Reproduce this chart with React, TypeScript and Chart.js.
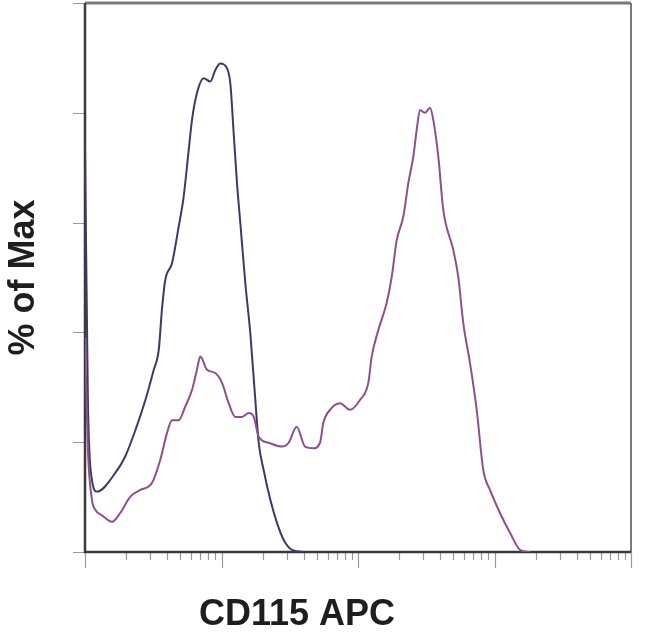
import React, { useEffect, useRef } from 'react';
import { Chart, registerables } from 'chart.js';

Chart.register(...registerables);

// CD115 APC fluorescence intensity (log scale) and % of Max
const isotypeX = [10, 10.5, 11.25, 12.24, 16.67, 19.7, 23.4, 27.7, 31.9, 34.7, 36.6, 38.7, 43.4, 48.6, 52.8, 57.5, 60.8, 66.1, 74.1, 82.8, 90.1, 98.0, 109.7, 116, 122.8, 129.9, 137.4, 149.4, 162.5, 176.9, 187.3, 203.8, 227.9, 255, 285.6, 328.6, 409];
const isotypeY = [74.1, 27.7, 13.1, 11.0, 14.4, 17.4, 22.2, 27.7, 33.2, 36.8, 44.1, 49.5, 52.6, 59.3, 64.7, 73.2, 78.7, 83.6, 86.3, 85.7, 87.8, 89.0, 88.1, 85.4, 76.3, 67.2, 59.9, 49.0, 39.9, 27.7, 19.9, 14.9, 9.5, 5.3, 2.2, 0.4, 0];

const stainedX = [10, 10.5, 11.25, 11.9, 13.3, 15.8, 18.1, 21.5, 25.4, 31.0, 35.6, 39.9, 43.4, 48.6, 54.3, 60.8, 66.1, 69.9, 78.3, 90.1, 100.9, 112.9, 126.2, 141.3, 158.2, 172.2, 187.3, 221.8, 277.5, 310.7, 355.6, 409, 470.4, 526.9, 557, 623.6, 738.3, 873.7, 1034, 1190, 1260, 1408, 1623, 1766, 1921, 2148, 2337, 2542, 2692, 2846, 3096, 3369, 3561, 3876, 4216, 4990, 5429, 5907, 6615, 7407, 8279, 9268, 10970, 12990, 15380, 18200];
const stainedY = [39, 18.6, 9.5, 7.7, 6.7, 5.5, 7.1, 10.1, 11.3, 12.6, 16.8, 21.7, 24.0, 24.0, 26.5, 29.5, 33.2, 35.6, 33.2, 32.6, 30.8, 27.1, 24.6, 24.6, 25.3, 24.6, 21.0, 19.9, 19.2, 19.9, 22.8, 19.2, 18.9, 19.9, 23.5, 25.9, 27.1, 25.9, 27.7, 30.8, 35.6, 40.4, 45.4, 50.1, 56.8, 61.1, 67.2, 72.0, 76.9, 80.5, 80.0, 80.9, 78.7, 72.0, 62.3, 55.0, 50.1, 41.7, 34.4, 25.9, 14.9, 11.3, 7.1, 3.5, 0.4, 0];

const xDecades = [10, 100, 1000, 10000, 100000];
const yTicks = [0, 20, 40, 60, 80, 100];
const xTitle = 'CD115 APC';
const yTitle = '% of Max';

const frameAndTicks = {
    id: 'frameAndTicks',
    beforeDatasetsDraw(chart: any) {
        const { ctx, chartArea, scales } = chart;
        const { left, right, top, bottom } = chartArea;
        ctx.save();
        // ticks
        ctx.strokeStyle = '#9a9a9a';
        ctx.lineWidth = 1.2;
        ctx.beginPath();
        for (const v of yTicks) {
            const py = Math.round(scales.y.getPixelForValue(v)) + 0.5;
            ctx.moveTo(left - 12, py);
            ctx.lineTo(left, py);
        }
        for (let i = 0; i < xDecades.length; i++) {
            const d = xDecades[i];
            const px = Math.round(scales.x.getPixelForValue(d)) + 0.5;
            ctx.moveTo(px, bottom);
            ctx.lineTo(px, bottom + 16);
            if (i < xDecades.length - 1) {
                for (let k = 2; k <= 9; k++) {
                    const mx = Math.round(scales.x.getPixelForValue(d * k)) + 0.5;
                    ctx.moveTo(mx, bottom);
                    ctx.lineTo(mx, bottom + 8);
                }
            }
        }
        ctx.stroke();
        // frame
        ctx.strokeStyle = '#7a7a7a';
        ctx.lineWidth = 3;
        ctx.beginPath();
        ctx.moveTo(left, top);
        ctx.lineTo(right, top);
        ctx.stroke();
        ctx.lineWidth = 2;
        ctx.beginPath();
        ctx.moveTo(right, top);
        ctx.lineTo(right, bottom);
        ctx.stroke();
        ctx.strokeStyle = '#3a3a3a';
        ctx.lineWidth = 2.5;
        ctx.beginPath();
        ctx.moveTo(left, top);
        ctx.lineTo(left, bottom);
        ctx.lineTo(right, bottom);
        ctx.stroke();
        ctx.restore();
    },
    afterDraw(chart: any) {
        const { ctx, chartArea } = chart;
        ctx.save();
        ctx.fillStyle = '#1e1e1e';
        ctx.font = 'bold 36px "Liberation Sans", Arial, sans-serif';
        ctx.textAlign = 'center';
        ctx.textBaseline = 'middle';
        ctx.fillText(xTitle, chartArea.left + 212, chartArea.bottom + 63);
        ctx.translate(24, (chartArea.top + chartArea.bottom) / 2);
        ctx.rotate(-Math.PI / 2);
        ctx.fillText(yTitle, 0, 0);
        ctx.restore();
    },
};

const App: React.FC = () => {
    const chartRef = useRef<HTMLCanvasElement | null>(null);

    useEffect(() => {
        if (!chartRef.current) return;
        const toPoints = (xs: number[], ys: number[]) => xs.map((x, i) => ({ x, y: ys[i] }));

        const myChart = new Chart(chartRef.current, {
            type: 'line',
            data: {
                datasets: [
                    {
                        label: 'Stained',
                        data: toPoints(stainedX, stainedY),
                        borderColor: '#8e4f8e',
                        borderWidth: 2,
                        pointRadius: 0,
                        cubicInterpolationMode: 'monotone',
                        fill: false,
                    },
                    {
                        label: 'Isotype',
                        data: toPoints(isotypeX, isotypeY),
                        borderColor: '#3b3b6a',
                        borderWidth: 2,
                        pointRadius: 0,
                        cubicInterpolationMode: 'monotone',
                        fill: false,
                    },
                ],
            },
            options: {
                animation: false,
                responsive: false,
                devicePixelRatio: 1,
                layout: { padding: { left: 85, right: 19, top: 3, bottom: 81 } },
                plugins: { legend: { display: false }, tooltip: { enabled: false } },
                scales: {
                    x: { type: 'logarithmic', min: 10, max: 100000, display: false },
                    y: { type: 'linear', min: 0, max: 100, display: false },
                },
            },
            plugins: [frameAndTicks],
        });

        return () => {
            myChart.destroy();
        };
    }, []);

    return (
        <div style={{ position: 'fixed', left: 0, top: 0, width: 650, height: 633, background: '#fff' }}>
            <canvas ref={chartRef} width={650} height={633} />
        </div>
    );
};

export default App;
